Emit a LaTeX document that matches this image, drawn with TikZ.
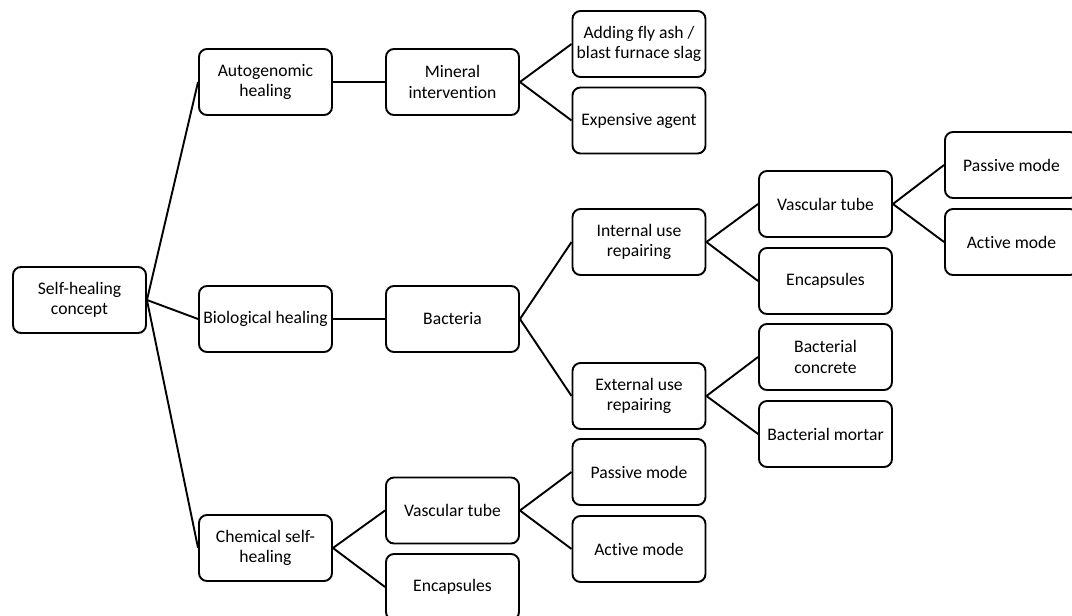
\documentclass[tikz,border=0pt]{standalone}
\usepackage{fontspec}
\setmainfont{Carlito}[Ligatures=NoCommon]
\usetikzlibrary{positioning}
\newcommand\boxw{133pt}
\newcommand\boxh{66pt}
\tikzset{conceptbox/.style={rectangle, rounded corners=8pt, draw=black, line width=1.9pt, minimum width=\boxw, minimum height=\boxh, align=center, inner sep=2pt, font=\fontsize{17.6}{20.5}\selectfont}}
\tikzset{branch/.style={line width=1.9pt}}

\begin{document}
\begin{tikzpicture}[x=1pt, y=-1pt]
\useasboundingbox (0,0) rectangle (1072,616);
% level 0 and 1
\node[conceptbox] (root) at (79.5,300) {Self-healing\\concept};
\node[conceptbox] (auto) at (265.5,82) {Autogenomic\\healing};
\node[conceptbox] (bio) at (265.5,319) {Biological healing};
\node[conceptbox] (chem) at (265.5,548) {Chemical self-\\healing};
% level 2
\node[conceptbox] (mineral) at (452.5,82) {Mineral\\intervention};
\node[conceptbox] (bact) at (452.5,319) {Bacteria};
\node[conceptbox] (cvasc) at (452.5,510.5) {Vascular tube};
\node[conceptbox] (cenc) at (452.5,587) {Encapsules};
% level 3
\node[conceptbox] (flyash) at (639,44) {Adding fly ash /\\blast furnace slag};
\node[conceptbox] (expens) at (639,120.5) {Expensive agent};
\node[conceptbox] (internal) at (639,242) {Internal use\\repairing};
\node[conceptbox] (external) at (639,396) {External use\\repairing};
\node[conceptbox] (cpass) at (639,472) {Passive mode};
\node[conceptbox] (cact) at (639,549) {Active mode};
% level 4
\node[conceptbox] (ivasc) at (825.5,204) {Vascular tube};
\node[conceptbox] (ienc) at (825.5,281) {Encapsules};
\node[conceptbox] (econc) at (825.5,357) {Bacterial\\concrete};
\node[conceptbox] (emort) at (825.5,434) {Bacterial mortar};
% level 5
\node[conceptbox] (ipass) at (1011.5,165) {Passive mode};
\node[conceptbox] (iact) at (1011.5,242) {Active mode};
% branches
\foreach \a/\b in {root/auto, root/bio, root/chem, auto/mineral, bio/bact, chem/cvasc, chem/cenc,
	mineral/flyash, mineral/expens, bact/internal, bact/external, cvasc/cpass, cvasc/cact,
	internal/ivasc, internal/ienc, external/econc, external/emort, ivasc/ipass, ivasc/iact} {
	\draw[branch] (\a.east) -- (\b.west);
}
\end{tikzpicture}
\end{document}
